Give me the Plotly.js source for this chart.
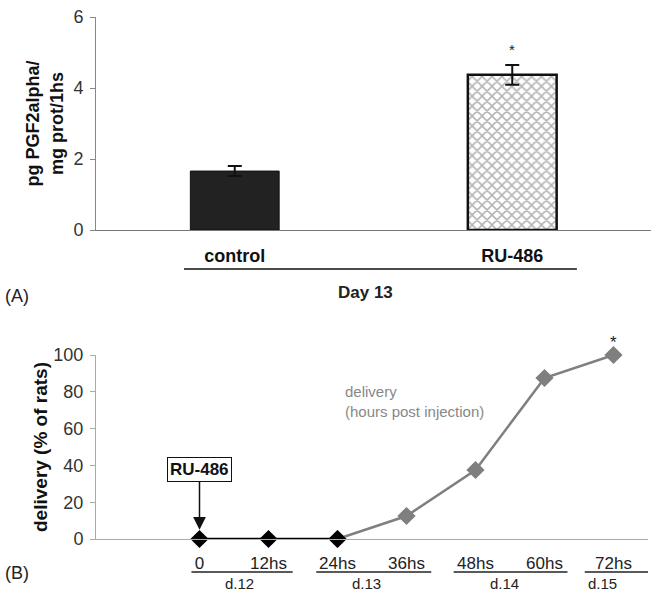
<!DOCTYPE html>
<html><head><meta charset="utf-8">
<script src="https://cdn.plot.ly/plotly-3.0.1.min.js"></script>
<style>html,body{margin:0;padding:0;background:#fff}#c{width:662px;height:592px}</style>
</head><body><div id="c"></div>
<script>
// Panel A data
const groups = ["control", "RU-486"];
const pgValues = [1.66, 4.37];
const pgErrors = [0.14, 0.28];
// Panel B data
const hours = [0, 12, 24, 36, 48, 60, 72];
const hourLabels = ["0", "12hs", "24hs", "36hs", "48hs", "60hs", "72hs"];
const deliveryPct = [0, 0, 0, 12.5, 37.5, 87.5, 100];
const dayLabels = ["d.12", "d.13", "d.14", "d.15"];
const dayCenters = [7, 29, 53, 70];
const daySpans = [[-1.4, 16.2], [20.3, 40.3], [44.2, 64], [67, 80]];

const F = "Liberation Sans, Arial, sans-serif";
const preIdx = [0, 1, 2];
const postIdx = [2, 3, 4, 5, 6];

const traces = [
  {type: "bar", x: [groups[0]], y: [pgValues[0]], xaxis: "x", yaxis: "y", width: 0.32,
   error_y: {type: "data", array: [pgErrors[0]], visible: true, color: "#111", thickness: 2, width: 7},
   marker: {color: "#222222", line: {color: "#111", width: 1}}, hoverinfo: "skip"},
  {type: "bar", x: [groups[1]], y: [pgValues[1]], xaxis: "x", yaxis: "y", width: 0.32,
   error_y: {type: "data", array: [pgErrors[1]], visible: true, color: "#111", thickness: 2, width: 7},
   marker: {color: "#ffffff", line: {color: "#111", width: 2.5},
            pattern: {shape: "x", fgcolor: "#6a6a6a", bgcolor: "#ffffff", size: 7, solidity: 0.4, fillmode: "overlay"}},
   hoverinfo: "skip"},
  {type: "scatter", mode: "lines+markers", x: postIdx.map(i => hours[i]), y: postIdx.map(i => deliveryPct[i]),
   xaxis: "x2", yaxis: "y2", line: {color: "#7f7f7f", width: 2.5},
   marker: {symbol: "diamond", size: 14, color: "#7f7f7f"}, cliponaxis: false},
  {type: "scatter", mode: "lines+markers", x: preIdx.map(i => hours[i]), y: preIdx.map(i => deliveryPct[i]),
   xaxis: "x2", yaxis: "y2", line: {color: "#000", width: 2.5},
   marker: {symbol: "diamond", size: 14, color: "#000"}, cliponaxis: false}
];

const shapes = [
  {type: "line", xref: "x", yref: "paper", x0: -0.183, x1: 1.233, y0: 0.5456, y1: 0.5456, line: {color: "#111", width: 1.5}}
].concat(daySpans.map(s => ({type: "line", xref: "x2", yref: "paper", x0: s[0], x1: s[1], y0: 0.0338, y1: 0.0338, line: {color: "#222", width: 1.5}})));

const annotations = [
  {xref: "x", yref: "y", x: 1, y: pgValues[1] + pgErrors[1], yshift: 15, text: "*", showarrow: false, font: {family: F, size: 15, color: "#222"}},
  {xref: "paper", yref: "paper", x: 366/662, y: 1 - 292/592, yanchor: "middle", text: "<b>Day 13</b>", showarrow: false, font: {family: F, size: 17, color: "#222"}},
  {xref: "paper", yref: "paper", x: 0.005, y: 1 - 296/592, xanchor: "left", yanchor: "middle", text: "(A)", showarrow: false, font: {family: F, size: 18, color: "#222"}},
  {xref: "paper", yref: "paper", x: 0.005, y: 1 - 573/592, xanchor: "left", yanchor: "middle", text: "(B)", showarrow: false, font: {family: F, size: 18, color: "#222"}},
  {xref: "x2", yref: "y2", x: 72, y: 100, yshift: 13, text: "*", showarrow: false, font: {family: F, size: 17, color: "#222"}},
  {xref: "x2", yref: "y2", x: 0, y: 5, ax: 0, ay: -60, text: "<b>RU-486</b>", showarrow: true, arrowhead: 2, arrowsize: 1.7, arrowwidth: 1.5, arrowcolor: "#111",
   bordercolor: "#111", borderwidth: 1, borderpad: 2, bgcolor: "#fff", font: {family: F, size: 17, color: "#111"}},
  {xref: "paper", yref: "paper", x: 343/662, y: 1 - 401/592, xanchor: "left", yanchor: "middle", align: "left", text: "delivery<br>(hours post injection)", showarrow: false, font: {family: F, size: 15, color: "#888"}}
].concat(dayLabels.map((d, i) => ({xref: "x2", yref: "paper", x: dayCenters[i], y: 1 - 583/592, yanchor: "middle", text: d, showarrow: false, font: {family: F, size: 15, color: "#222"}})));

const layout = {
  width: 662, height: 592, margin: {l: 0, r: 0, t: 0, b: 0}, showlegend: false,
  paper_bgcolor: "#fff", plot_bgcolor: "#fff", barmode: "overlay",
  font: {family: F, color: "#222"},
  xaxis: {domain: [96/662, 651/662], anchor: "y", type: "category", range: [-0.5, 1.5],
          showline: true, linecolor: "#777", linewidth: 1, ticks: "", showgrid: false, zeroline: false,
          tickvals: groups, ticktext: groups.map(g => "<b>" + g + "</b>"), tickfont: {family: F, size: 18, color: "#111"}, ticklabelstandoff: 9},
  yaxis: {domain: [1 - 230/592, 1 - 17/592], anchor: "x", range: [0, 6], tickvals: [0, 2, 4, 6],
          showline: true, linecolor: "#888", linewidth: 1, ticks: "outside", ticklen: 5, tickcolor: "#888", showgrid: false, zeroline: false,
          tickfont: {family: F, size: 18, color: "#333"}, ticklabelstandoff: 3,
          title: {text: "<b>pg PGF2alpha/<br>mg prot/1hs</b>", font: {family: F, size: 18, color: "#111"}, standoff: 5}},
  xaxis2: {domain: [96/662, 648/662], anchor: "y2", range: [-18, 78], showline: true, linecolor: "#aaa", linewidth: 1,
           ticks: "", showgrid: false, zeroline: false, tickvals: hours, ticktext: hourLabels,
           tickfont: {family: F, size: 17, color: "#222"}, ticklabelstandoff: 9},
  yaxis2: {domain: [1 - 539/592, 1 - 355/592], anchor: "x2", range: [0, 100], tickvals: [0, 20, 40, 60, 80, 100],
           showline: true, linecolor: "#aaa", linewidth: 1, ticks: "outside", ticklen: 5, tickcolor: "#aaa", showgrid: false, zeroline: false,
           tickfont: {family: F, size: 18, color: "#333"}, ticklabelstandoff: 3,
           title: {text: "<b>delivery (% of rats)</b>", font: {family: F, size: 19, color: "#111"}, standoff: 0}},
  shapes: shapes, annotations: annotations
};
Plotly.newPlot("c", traces, layout, {staticPlot: true});
</script></body></html>
